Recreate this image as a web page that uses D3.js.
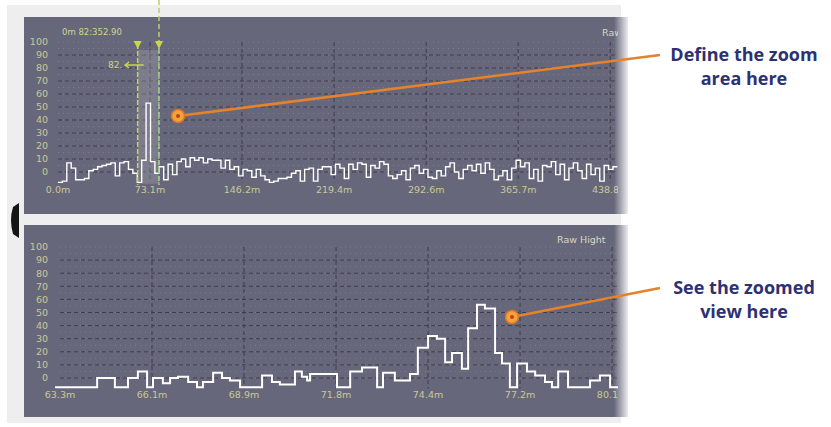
<!DOCTYPE html>
<html>
<head>
<meta charset="utf-8">
<script src="https://cdn.jsdelivr.net/npm/d3@7"></script>
<style>
  body { margin: 0; background: #fff; }
  svg { display: block; }
</style>
</head>
<body>
<svg id="chart" width="831" height="427"></svg>
<script>
// full trace (top panel): OTDR samples every 3.5 m, values in % of scale
const topStep = 3.5;
const topValues = [
  -8, -7, 7, 3, -6, -6, -5, 1, 2, 4, 5, 6, 7, -3, 7, 8, 2, -1, -8, 9,
  53, 8, -1, 4, -6, 6, -2, 8, 10, 4, 11, 9, 11, 7, 10, 9, 9, 3, 9, 2,
  4, -3, 2, 1, -4, 2, -3, -6, -8, -7, -5, -5, -4, -1, 1, -7, 2, 3, -7, 2,
  4, 4, -2, 6, 3, -5, 6, 2, 7, 6, -4, 5, 3, 8, 6, -3, -5, -2, 1, -6,
  3, 5, -1, 2, -4, -5, 1, -3, 4, 7, 0, -5, 2, 5, 1, 6, -1, 7, 2, -6,
  -3, 1, -6, 3, 9, 4, 7, -5, 2, -7, 5, 4, 8, -2, 6, -6, 3, 7, 1, -5,
  6, -2, 3, -7, 5, 2, 4, 4
];
const topTicks = [0, 73.1, 146.2, 219.4, 292.6, 365.7, 438.8];
const topTickLabels = ['0.0m', '73.1m', '146.2m', '219.4m', '292.6m', '365.7m', '438.8m'];

// zoom window (metres)
const zoomFrom = 63.3;
const zoomTo = 80.25;

// zoomed trace (bottom panel): step edges in metres and the value of each step
const zoomEdges = [
  63.15, 64.43, 64.97, 65.37, 65.67, 65.95, 66.13, 66.43, 66.65, 66.89,
  67.20, 67.47, 67.65, 67.96, 68.23, 68.47, 68.78, 69.45, 69.75, 69.99,
  70.45, 70.66, 70.82, 70.91, 71.73, 72.13, 72.49, 72.95, 73.13, 73.49,
  73.95, 74.19, 74.50, 74.77, 75.02, 75.23, 75.53, 75.72, 75.99, 76.23,
  76.54, 76.75, 76.99, 77.21, 77.51, 77.76, 78.06, 78.27, 78.46, 78.76,
  79.43, 79.73, 80.04, 80.34
];
const zoomValues = [
  -7, 0, -7, 0, 5, -7, 0, -4, 0, 1,
  -3, -7, -3, 4, 0, -2, -7, 2, -3, -5,
  5, 1, -2, 3, -7, 5, 8, -7, 4, -2,
  3, 23, 32, 30, 12, 19, 7, 38, 56, 53,
  19, 11, -7, 11, 5, 2, -3, -7, 5, -7,
  -2, 2, -7
];
const zoomTicks = [63.3, 66.1, 68.9, 71.7, 74.5, 77.3, 80.1];
const zoomTickLabels = ['63.3m', '66.1m', '68.9m', '71.8m', '74.4m', '77.2m', '80.1m'];

const yTicks = [0, 10, 20, 30, 40, 50, 60, 70, 80, 90, 100];

const callouts = [
  { lines: ['Define the zoom', 'area here'] },
  { lines: ['See the zoomed', 'view here'] }
];

const panelFill = '#67677b';
const axisText = '#c9c995';
const markColor = '#c8d64c';
const calloutColor = '#e5822c';

const svg = d3.select('#chart');
const defs = svg.append('defs');

// light frame behind both panels
svg.append('rect')
  .attr('x', 7).attr('y', 5).attr('width', 614).attr('height', 418)
  .attr('fill', '#eeeeee');

const fade = defs.append('linearGradient').attr('id', 'fade');
fade.append('stop').attr('offset', '0%').attr('stop-color', '#fff').attr('stop-opacity', 0);
fade.append('stop').attr('offset', '100%').attr('stop-color', '#fff').attr('stop-opacity', 1);

// collapse handle on the left
svg.append('path')
  .attr('d', 'M19,203 L13,207 Q9,220 13,234 L19,238 Z')
  .attr('fill', '#151515');

function drawPanel(cfg) {
  const g = svg.append('g');
  defs.append('clipPath').attr('id', cfg.id + '-clip')
    .append('rect')
    .attr('x', cfg.left).attr('y', cfg.top)
    .attr('width', cfg.clipRight - cfg.left).attr('height', cfg.bottom - cfg.top);

  g.append('rect')
    .attr('x', cfg.left).attr('y', cfg.top)
    .attr('width', cfg.right - cfg.left).attr('height', cfg.bottom - cfg.top)
    .attr('fill', panelFill);

  const body = g.append('g').attr('clip-path', `url(#${cfg.id}-clip)`);
  const { x, y } = cfg;

  // fine dotted grid
  const fine = d3.range(0, 101, 5);
  body.selectAll('.fine-h').data(fine).join('line')
    .attr('x1', x.range()[0]).attr('x2', x.range()[1])
    .attr('y1', d => y(d)).attr('y2', d => y(d))
    .attr('stroke', '#7d7d90').attr('stroke-width', 1)
    .attr('stroke-dasharray', '1,4');

  // dashed grid
  body.selectAll('.grid-h').data(yTicks.slice(0, -1)).join('line')
    .attr('x1', x.range()[0]).attr('x2', x.range()[1])
    .attr('y1', d => y(d)).attr('y2', d => y(d))
    .attr('stroke', '#3d3d4b').attr('stroke-width', 1)
    .attr('stroke-dasharray', '4,3');

  body.selectAll('.grid-v').data(cfg.ticks.slice(1)).join('line')
    .attr('x1', d => x(d)).attr('x2', d => x(d))
    .attr('y1', y(100)).attr('y2', y(-8))
    .attr('stroke', '#3d3d4b').attr('stroke-width', 1)
    .attr('stroke-dasharray', '4,3');

  // y labels
  g.selectAll('.ylab').data(yTicks).join('text')
    .attr('x', cfg.left + 24).attr('y', d => y(d))
    .attr('dy', '0.35em')
    .attr('text-anchor', 'end')
    .attr('font-family', 'DejaVu Sans, sans-serif')
    .attr('font-size', 9.5)
    .attr('fill', axisText)
    .text(d => d);

  // x labels
  body.selectAll('.xlab').data(cfg.ticks).join('text')
    .attr('x', d => x(d)).attr('y', cfg.labelY)
    .attr('dy', '0.35em')
    .attr('text-anchor', 'middle')
    .attr('font-family', 'DejaVu Sans, sans-serif')
    .attr('font-size', 9.5)
    .attr('fill', axisText)
    .text((d, i) => cfg.tickLabels[i]);

  // corner caption
  body.append('text')
    .attr('x', cfg.captionX).attr('y', cfg.captionY)
    .attr('dy', '0.35em')
    .attr('font-family', 'DejaVu Sans, sans-serif')
    .attr('font-size', 9.5)
    .attr('fill', '#d8d8c0')
    .text('Raw Hight');

  // right-edge fade
  g.append('rect')
    .attr('x', cfg.right - 14).attr('y', cfg.top)
    .attr('width', 16).attr('height', cfg.bottom - cfg.top)
    .attr('fill', 'url(#fade)');

  return body;
}

// ---- top panel
const xTop = d3.scaleLinear().domain([0, 444.2]).range([58, 617]);
const yTop = d3.scaleLinear().domain([0, 100]).range([172, 42]);

const topBody = drawPanel({
  id: 'top', left: 24, right: 628, clipRight: 618, top: 17, bottom: 214,
  x: xTop, y: yTop, ticks: topTicks, tickLabels: topTickLabels,
  labelY: 190, captionX: 602, captionY: 33
});

// zoom window markers
topBody.append('rect')
  .attr('x', xTop(zoomFrom)).attr('y', 50)
  .attr('width', xTop(zoomTo) - xTop(zoomFrom))
  .attr('height', yTop(-9) - 50)
  .attr('fill', '#a3a3ac').attr('opacity', 0.35);

const topPts = topValues.map((v, i) => [i * topStep, v]);
topBody.append('path')
  .datum(topPts)
  .attr('fill', 'none')
  .attr('stroke', '#ffffff')
  .attr('stroke-width', 1.4)
  .attr('d', d3.line()
    .x(d => xTop(d[0]))
    .y(d => yTop(d[1]))
    .curve(d3.curveStepAfter));

svg.append('line')
  .attr('x1', xTop(zoomFrom)).attr('x2', xTop(zoomFrom))
  .attr('y1', 44).attr('y2', yTop(-10))
  .attr('stroke', markColor).attr('stroke-width', 1.5)
  .attr('stroke-dasharray', '5,2');
svg.append('line')
  .attr('x1', xTop(zoomTo)).attr('x2', xTop(zoomTo))
  .attr('y1', 0).attr('y2', yTop(-10))
  .attr('stroke', '#b9cf68').attr('stroke-width', 1.5)
  .attr('stroke-dasharray', '5,3');
svg.append('line')
  .attr('x1', xTop(zoomTo)).attr('x2', xTop(zoomTo))
  .attr('y1', 52).attr('y2', yTop(-10))
  .attr('stroke', '#86c9cc').attr('stroke-width', 1.2)
  .attr('stroke-dasharray', '2,3');

[zoomFrom, zoomTo].forEach(d => {
  const cx = xTop(d);
  svg.append('path')
    .attr('d', `M${cx - 4},41 L${cx + 4},41 L${cx},49 Z`)
    .attr('fill', markColor);
});

svg.append('text')
  .attr('x', 62).attr('y', 32).attr('dy', '0.35em')
  .attr('font-family', 'DejaVu Sans, sans-serif')
  .attr('font-size', 8.5)
  .attr('fill', '#cbd88e')
  .text('0m  82:352.90');

svg.append('text')
  .attr('x', 108).attr('y', 65).attr('dy', '0.35em')
  .attr('font-family', 'DejaVu Sans, sans-serif')
  .attr('font-size', 9)
  .attr('fill', '#cbd88e')
  .text('82.');
svg.append('path')
  .attr('d', `M125,65 L${xTop(zoomFrom) + 6},65 M129,62 L125,65 L129,68`)
  .attr('stroke', markColor).attr('stroke-width', 1.3).attr('fill', 'none');

// ---- bottom panel
const xBot = d3.scaleLinear().domain([zoomFrom, zoomTo]).range([60, 617]);
const yBot = d3.scaleLinear().domain([0, 100]).range([378, 247]);

const botBody = drawPanel({
  id: 'bot', left: 24, right: 628, clipRight: 618, top: 225, bottom: 417,
  x: xBot, y: yBot, ticks: zoomTicks, tickLabels: zoomTickLabels,
  labelY: 395, captionX: 557, captionY: 240
});

const zoomPts = zoomValues.map((v, i) => [zoomEdges[i], v]);
zoomPts.push([zoomEdges[zoomEdges.length - 1], zoomValues[zoomValues.length - 1]]);
botBody.append('path')
  .datum(zoomPts)
  .attr('fill', 'none')
  .attr('stroke', '#ffffff')
  .attr('stroke-width', 2)
  .attr('d', d3.line()
    .x(d => xBot(d[0]))
    .y(d => yBot(d[1]))
    .curve(d3.curveStepAfter));

// ---- callouts
const anchors = [
  { cx: 178, cy: 116, ex: 660, ey: 55, tx: 744, ty: 55 },
  { cx: 512, cy: 317, ex: 660, ey: 288, tx: 744, ty: 288 }
];
callouts.forEach((c, i) => {
  const a = anchors[i];
  svg.append('line')
    .attr('x1', a.cx).attr('y1', a.cy).attr('x2', a.ex).attr('y2', a.ey)
    .attr('stroke', calloutColor).attr('stroke-width', 2.5);
  svg.append('circle')
    .attr('cx', a.cx).attr('cy', a.cy).attr('r', 6.5)
    .attr('fill', '#f2a43c').attr('stroke', '#e07424').attr('stroke-width', 1.5);
  svg.append('circle')
    .attr('cx', a.cx).attr('cy', a.cy).attr('r', 2)
    .attr('fill', '#c8401a');
  c.lines.forEach((line, j) => {
    svg.append('text')
      .attr('x', a.tx).attr('y', a.ty + j * 24)
      .attr('dy', '0.35em')
      .attr('text-anchor', 'middle')
      .attr('font-family', 'Open Sans, sans-serif')
      .attr('font-weight', 700)
      .attr('font-size', 18)
      .attr('fill', '#2d3172')
      .text(line);
  });
});
</script>
</body>
</html>
